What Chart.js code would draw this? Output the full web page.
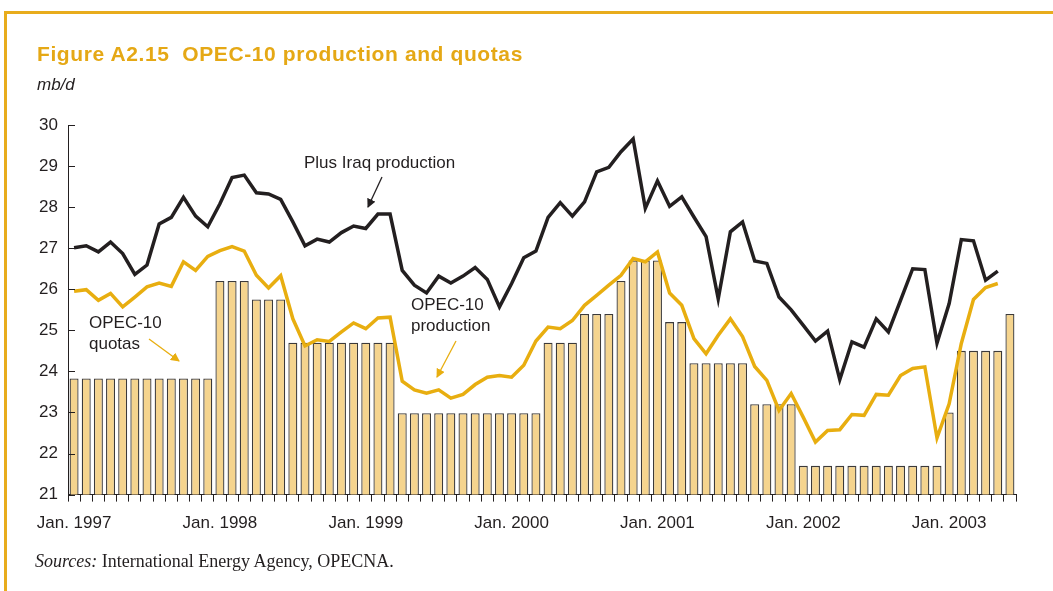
<!DOCTYPE html>
<html>
<head>
<meta charset="utf-8">
<script src="https://cdn.jsdelivr.net/npm/chart.js@4"></script>
<style>
    body { margin: 0; background: #fff; font-family: 'Liberation Sans', Arial, sans-serif; color: #231f20; }
    #page { position: relative; width: 1053px; height: 591px; overflow: hidden; }
    #frame { position: absolute; left: 4px; top: 11px; right: -5px; bottom: -5px; border-top: 3px solid #e8ac1c; border-left: 3px solid #e8ac1c; }
    #wrap { position: absolute; left: 0; top: 0; width: 1053px; height: 591px; }
    .txt { position: absolute; white-space: nowrap; }
    #title { left: 37px; top: 42px; font-size: 21px; font-weight: bold; color: #e5a815; letter-spacing: 0.6px; }
    #unit { left: 37px; top: 75px; font-size: 17px; font-style: italic; }
    .note { font-size: 17px; line-height: 21px; }
    #sources { left: 35px; top: 551px; font-family: 'Liberation Serif', 'Times New Roman', serif; font-size: 18px; }
    svg { position: absolute; left: 0; top: 0; }
</style>
</head>
<body>
<div id="page">
    <div id="frame"></div>
    <div id="wrap"><canvas id="chart"></canvas></div>
    <div class="txt" id="title">Figure A2.15&nbsp; OPEC-10 production and quotas</div>
    <div class="txt" id="unit">mb/d</div>
    <div class="txt note" style="left:304px; top:152px;">Plus Iraq production</div>
    <div class="txt note" style="left:411px; top:294px;">OPEC-10<br>production</div>
    <div class="txt note" style="left:89px; top:312px;">OPEC-10<br>quotas</div>
    <svg width="1053" height="591">
        <defs>
            <marker id="headK" markerWidth="9" markerHeight="9" refX="8" refY="4.5" orient="auto" markerUnits="userSpaceOnUse">
                <path d="M0,0 L9,4.5 L0,9 z" fill="#231f20"/>
            </marker>
            <marker id="headY" markerWidth="9" markerHeight="9" refX="8" refY="4.5" orient="auto" markerUnits="userSpaceOnUse">
                <path d="M0,0 L9,4.5 L0,9 z" fill="#e8ae10"/>
            </marker>
        </defs>
        <line x1="382" y1="177" x2="368" y2="207" stroke="#231f20" stroke-width="1.3" marker-end="url(#headK)"/>
        <line x1="456" y1="341" x2="437" y2="377" stroke="#e8ae10" stroke-width="1.3" marker-end="url(#headY)"/>
        <line x1="149" y1="339" x2="179" y2="361" stroke="#e8ae10" stroke-width="1.3" marker-end="url(#headY)"/>
    </svg>
    <div class="txt" id="sources"><i>Sources:</i> International Energy Agency, OPECNA.</div>
</div>
<script>
// monthly, Jan. 1997 - Jun. 2003
const months = [
    'Jan. 1997', 'Feb. 1997', 'Mar. 1997', 'Apr. 1997', 'May 1997', 'Jun. 1997', 'Jul. 1997', 'Aug. 1997', 'Sep. 1997', 'Oct. 1997', 'Nov. 1997', 'Dec. 1997',
    'Jan. 1998', 'Feb. 1998', 'Mar. 1998', 'Apr. 1998', 'May 1998', 'Jun. 1998', 'Jul. 1998', 'Aug. 1998', 'Sep. 1998', 'Oct. 1998', 'Nov. 1998', 'Dec. 1998',
    'Jan. 1999', 'Feb. 1999', 'Mar. 1999', 'Apr. 1999', 'May 1999', 'Jun. 1999', 'Jul. 1999', 'Aug. 1999', 'Sep. 1999', 'Oct. 1999', 'Nov. 1999', 'Dec. 1999',
    'Jan. 2000', 'Feb. 2000', 'Mar. 2000', 'Apr. 2000', 'May 2000', 'Jun. 2000', 'Jul. 2000', 'Aug. 2000', 'Sep. 2000', 'Oct. 2000', 'Nov. 2000', 'Dec. 2000',
    'Jan. 2001', 'Feb. 2001', 'Mar. 2001', 'Apr. 2001', 'May 2001', 'Jun. 2001', 'Jul. 2001', 'Aug. 2001', 'Sep. 2001', 'Oct. 2001', 'Nov. 2001', 'Dec. 2001',
    'Jan. 2002', 'Feb. 2002', 'Mar. 2002', 'Apr. 2002', 'May 2002', 'Jun. 2002', 'Jul. 2002', 'Aug. 2002', 'Sep. 2002', 'Oct. 2002', 'Nov. 2002', 'Dec. 2002',
    'Jan. 2003', 'Feb. 2003', 'Mar. 2003', 'Apr. 2003', 'May 2003', 'Jun. 2003'
];

// only these show under the axis
const yearTicks = ['Jan. 1997', 'Jan. 1998', 'Jan. 1999', 'Jan. 2000', 'Jan. 2001', 'Jan. 2002', 'Jan. 2003'];

const quotas = [
    23.83, 23.83, 23.83, 23.83, 23.83, 23.83, 23.83, 23.83, 23.83, 23.83, 23.83, 23.83,
    26.2, 26.2, 26.2, 25.75, 25.75, 25.75, 24.7, 24.7, 24.7, 24.7, 24.7, 24.7,
    24.7, 24.7, 24.7, 22.98, 22.98, 22.98, 22.98, 22.98, 22.98, 22.98, 22.98, 22.98,
    22.98, 22.98, 22.98, 24.7, 24.7, 24.7, 25.4, 25.4, 25.4, 26.2, 26.7, 26.7,
    26.7, 25.2, 25.2, 24.2, 24.2, 24.2, 24.2, 24.2, 23.2, 23.2, 23.2, 23.2,
    21.7, 21.7, 21.7, 21.7, 21.7, 21.7, 21.7, 21.7, 21.7, 21.7, 21.7, 21.7,
    23.0, 24.5, 24.5, 24.5, 24.5, 25.4
];

const opec10 = [
    25.95, 25.99, 25.73, 25.9, 25.57, 25.81, 26.06, 26.15, 26.07, 26.67, 26.46, 26.8,
    26.94, 27.04, 26.93, 26.34, 26.03, 26.33, 25.28, 24.62, 24.77, 24.73, 24.96, 25.18,
    25.04, 25.3, 25.32, 23.76, 23.55, 23.47, 23.55, 23.35, 23.44, 23.68, 23.86, 23.9,
    23.86, 24.15, 24.74, 25.08, 25.04, 25.24, 25.61, 25.85, 26.1, 26.34, 26.75, 26.67,
    26.91, 25.91, 25.61, 24.8, 24.43, 24.88, 25.28, 24.85, 24.12, 23.78, 23.05, 23.46,
    22.88, 22.28, 22.56, 22.58, 22.95, 22.93, 23.44, 23.42, 23.9, 24.07, 24.11, 22.38,
    23.21, 24.68, 25.75, 26.04, 26.14, null
];

const plusIraq = [
    27.01, 27.06, 26.91, 27.15, 26.87, 26.36, 26.59, 27.59, 27.75, 28.24, 27.78, 27.52,
    28.08, 28.72, 28.78, 28.35, 28.32, 28.19, 27.64, 27.06, 27.22, 27.15, 27.38, 27.54,
    27.48, 27.83, 27.83, 26.46, 26.1, 25.91, 26.32, 26.15, 26.32, 26.53, 26.24, 25.57,
    26.14, 26.77, 26.93, 27.75, 28.11, 27.78, 28.13, 28.86, 28.97, 29.35, 29.66, 27.97,
    28.64, 28.02, 28.25, 27.76, 27.28, 25.77, 27.4, 27.64, 26.69, 26.63, 25.81, 25.5,
    25.12, 24.74, 24.98, 23.8, 24.72, 24.59, 25.28, 24.96, 25.73, 26.5, 26.48, 24.69,
    25.65, 27.21, 27.18, 26.22, 26.44, null
];

const ink = '#231f20';
const axisFont = { family: "'Liberation Sans', Arial, sans-serif", size: 17 };

// short tick marks pointing into the plot on the value axis
const innerTicks = {
    id: 'innerTicks',
    afterDraw(chart) {
        const ctx = chart.ctx;
        const y = chart.scales.y;
        ctx.save();
        ctx.strokeStyle = ink;
        ctx.lineWidth = 1;
        y.ticks.forEach(t => {
            const py = Math.round(y.getPixelForValue(t.value)) + 0.5;
            ctx.beginPath();
            ctx.moveTo(y.right, py);
            ctx.lineTo(y.right + 7, py);
            ctx.stroke();
        });
        ctx.restore();
    }
};

new Chart(document.getElementById('chart'), {
    data: {
        labels: months,
        datasets: [
            {
                type: 'line',
                label: 'Plus Iraq production',
                data: plusIraq,
                borderColor: ink,
                borderWidth: 3.5,
                pointRadius: 0,
                tension: 0,
                order: 1
            },
            {
                type: 'line',
                label: 'OPEC-10 production',
                data: opec10,
                borderColor: '#e8ae10',
                borderWidth: 3.5,
                pointRadius: 0,
                tension: 0,
                order: 2
            },
            {
                type: 'bar',
                label: 'OPEC-10 quotas',
                data: quotas,
                backgroundColor: '#f5d48e',
                borderColor: '#3c3a3a',
                borderWidth: 1.3,
                categoryPercentage: 1,
                barPercentage: 0.74,
                order: 3
            }
        ]
    },
    options: {
        responsive: true,
        maintainAspectRatio: false,
        animation: false,
        layout: { padding: { left: 28, right: 37, top: 125, bottom: 45 } },
        plugins: { legend: { display: false }, tooltip: { enabled: false } },
        scales: {
            x: {
                type: 'category',
                offset: true,
                grid: { offset: true, drawOnChartArea: false, drawTicks: true, tickLength: 7, color: ink },
                border: { color: ink, width: 1 },
                ticks: {
                    autoSkip: false,
                    maxRotation: 0,
                    minRotation: 0,
                    padding: 12,
                    color: ink,
                    font: axisFont,
                    callback: (v, i) => yearTicks.includes(months[i]) ? months[i] : ''
                }
            },
            y: {
                min: 21,
                max: 30,
                afterFit: s => { s.width = 40; },
                grid: { drawOnChartArea: false, drawTicks: false },
                border: { color: ink, width: 1 },
                ticks: {
                    stepSize: 1,
                    padding: 10,
                    color: ink,
                    font: axisFont
                }
            }
        }
    },
    plugins: [innerTicks]
});
</script>
</body>
</html>
